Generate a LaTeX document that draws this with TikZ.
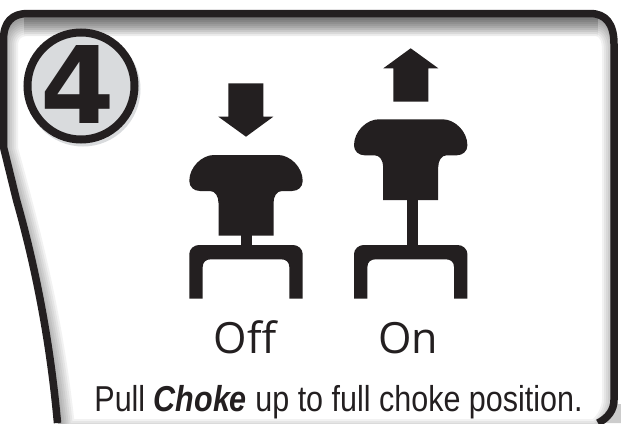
\documentclass[tikz,border=0pt]{standalone}
\usepackage{fontspec}
\setmainfont{Liberation Sans}
\newfontfamily\digitfont{DejaVu Sans}
\newfontfamily\statefont{Open Sans}
\newfontfamily\captionfont[FakeStretch=0.847]{Liberation Sans}
\definecolor{inkblack}{HTML}{231F20}
\definecolor{badgegray}{HTML}{D9DBDD}

\begin{document}
\begin{tikzpicture}[
    x=1pt, y=-1pt,
    frame/.style   = {draw=inkblack, line width=7.5pt, line join=round},
    badge/.style   = {circle, draw=inkblack, line width=8pt, fill=badgegray,
                      minimum size=107pt, inner sep=0pt},
    state/.style   = {font=\statefont\fontsize{43}{43}\selectfont, text=inkblack, anchor=base},
    caption/.style = {font=\captionfont\fontsize{36}{36}\selectfont, text=inkblack, anchor=base},
    knob/.pic      = {\fill[inkblack] (-27.5,80.7) -- (-27.5,48)
                        .. controls (-27.5,41) and (-31,36) .. (-36,36) -- (-46,36)
                        .. controls (-52,36) and (-56.7,32) .. (-56.7,26)
                        .. controls (-56.7,12) and (-44,0) .. (-32,0) -- (32,0)
                        .. controls (44,0) and (56.7,12) .. (56.7,26)
                        .. controls (56.7,32) and (52,36) .. (46,36) -- (36,36)
                        .. controls (31,36) and (27.5,41) .. (27.5,48)
                        -- (27.5,80.7) -- cycle;},
    fork/.pic      = {\fill[inkblack] (-56.7,53.7) -- (-56.7,9)
                        .. controls (-56.7,4) and (-52,0) .. (-47,0) -- (47,0)
                        .. controls (52,0) and (56.7,4) .. (56.7,9) -- (56.7,53.7)
                        -- (43.3,53.7) -- (43.3,22)
                        .. controls (43.3,17) and (40,14.3) .. (35,14.3) -- (-35,14.3)
                        .. controls (-40,14.3) and (-43.3,17) .. (-43.3,22)
                        -- (-43.3,53.7) -- cycle;}
]
\useasboundingbox (0,0) rectangle (621,423);
\fill[white] (0,0) rectangle (621,423);

%% -- Panel shadow -------------------------------------------
\begin{scope}
  \clip (3,40) .. controls (3,22) and (12,13) .. (28,13) -- (590,13)
        .. controls (606,13) and (614,24) .. (614,44) -- (614,400)
        .. controls (614,412) and (608,420) .. (598,424) -- (58,424)
        .. controls (50,340) and (35,260) .. (3,145) -- cycle;
  \foreach \w in {4,8,...,36} {
    \draw[black, opacity=0.05, line width=\w pt, line join=round]
        (0,46) .. controls (0,28) and (12,18) .. (28,18) -- (594,18)
        .. controls (610,18) and (620,30) .. (620,50) -- (620,400)
        .. controls (620,412) and (612,430) .. (598,437) -- (58,437)
        .. controls (48,340) and (32,265) .. (0,150) -- cycle;
    \draw[black, opacity=0.025, line width=\w pt] (24,18) -- (598,18);
  }
\end{scope}

%% -- Corner shadow ------------------------------------------
\fill[gray!40] (617,404) -- (621,404) -- (621,423) -- (600,423) -- cycle;

%% -- Panel outline ------------------------------------------
\draw[frame] (57.5,423) .. controls (50,340) and (35,265) .. (16.5,200)
      -- (3.5,147) -- (3.5,40) .. controls (3.5,22) and (12,13.5) .. (28,13.5) -- (590,13.5)
      .. controls (606,13.5) and (614,24) .. (614,44) -- (614,400)
      .. controls (614,410) and (608,418) .. (598,423);

%% -- Step badge ---------------------------------------------
\fill[badgegray] (83,89) circle (57.5);
\node[badge] (badge4) at (81,86) {};
\node[font=\digitfont\bfseries\fontsize{107}{107}\selectfont, text=inkblack] (digit4) at (78,84.5) {4};

%% -- Off position -------------------------------------------
\fill[inkblack] (228.3,83.3) -- (263.3,83.3) -- (263.3,116.7) -- (273.3,116.7)
      -- (246,136.7) -- (218.3,116.7) -- (228.3,116.7) -- cycle;
\pic at (246,155) {knob};
\fill[inkblack] (241,235) rectangle (252,246);
\pic at (246,245) {fork};
\node[state] (off) at (245,353) {Off};

%% -- On position --------------------------------------------
\fill[inkblack] (393.3,101.7) -- (428.3,101.7) -- (428.3,68.3) -- (438.3,68.3)
      -- (410.7,48.3) -- (383.3,68.3) -- (393.3,68.3) -- cycle;
\pic at (410.7,119.3) {knob};
\fill[inkblack] (407.3,199) rectangle (418.3,246);
\pic at (410.7,245) {fork};
\node[state] (on) at (408,353) {On};

%% -- Caption ------------------------------------------------
\node[caption] (pull) at (338.5,411.5) {Pull \textbf{\textit{Choke}} up to full choke position.};

\end{tikzpicture}
\end{document}
